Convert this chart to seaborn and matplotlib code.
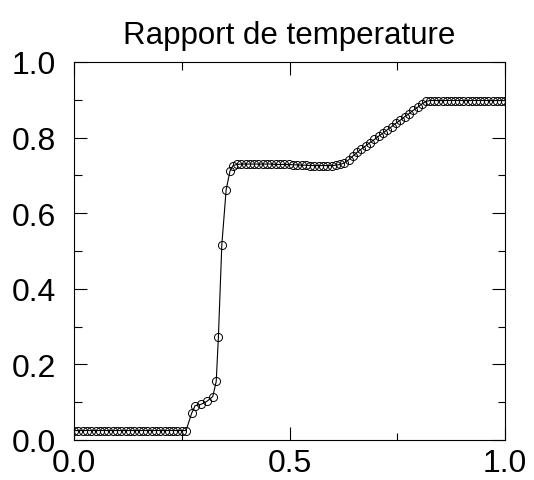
import matplotlib
matplotlib.use("Agg")
import matplotlib.pyplot as plt
import seaborn as sns
import pandas as pd
from matplotlib.ticker import MultipleLocator

title = "Rapport de temperature"
x_ticks = [0.0, 0.5, 1.0]
x_ticklabels = ["0.0", "0.5", "1.0"]
y_ticks = [0.0, 0.2, 0.4, 0.6, 0.8, 1.0]
y_ticklabels = ["0.0", "0.2", "0.4", "0.6", "0.8", "1.0"]

# position along the tube
x_pos = [
    0.00, 0.01, 0.02, 0.03, 0.04, 0.05, 0.06, 0.07, 0.08, 0.09,
    0.10, 0.11, 0.12, 0.13, 0.14, 0.15, 0.16, 0.17, 0.18, 0.19,
    0.20, 0.21, 0.22, 0.23, 0.24, 0.25, 0.26,
    0.273, 0.281, 0.294, 0.308, 0.322, 0.330, 0.335, 0.343, 0.353, 0.362, 0.369,
    0.378, 0.388, 0.398, 0.408, 0.418, 0.428, 0.438, 0.448, 0.458, 0.468,
    0.478, 0.488, 0.498, 0.508, 0.518, 0.528, 0.538, 0.548, 0.558, 0.568,
    0.578, 0.588, 0.598, 0.608, 0.618,
    0.627, 0.637, 0.647, 0.657, 0.667, 0.677, 0.687, 0.697, 0.707, 0.717,
    0.727, 0.737, 0.747, 0.757, 0.767, 0.777, 0.787, 0.797, 0.807, 0.817,
    0.826, 0.836, 0.845, 0.855, 0.865, 0.874, 0.884, 0.894, 0.903, 0.913,
    0.923, 0.932, 0.942, 0.952, 0.961, 0.971, 0.981, 0.990, 1.000,
]

# temperature ratio
t_ratio = [
    0.025, 0.025, 0.025, 0.025, 0.025, 0.025, 0.025, 0.025, 0.025, 0.025,
    0.025, 0.025, 0.025, 0.025, 0.025, 0.025, 0.025, 0.025, 0.025, 0.025,
    0.025, 0.025, 0.025, 0.025, 0.025, 0.025, 0.025,
    0.071, 0.091, 0.094, 0.102, 0.115, 0.155, 0.272, 0.517, 0.662, 0.712, 0.726,
    0.729, 0.730, 0.730, 0.730, 0.730, 0.730, 0.730, 0.730, 0.730, 0.729,
    0.729, 0.729, 0.729, 0.728, 0.728, 0.727, 0.727, 0.726, 0.726, 0.726,
    0.726, 0.726, 0.726, 0.727, 0.729,
    0.733, 0.741, 0.751, 0.761, 0.770, 0.778, 0.787, 0.795, 0.804, 0.812,
    0.821, 0.829, 0.838, 0.846, 0.855, 0.863, 0.872, 0.880, 0.889, 0.896,
    0.898, 0.898, 0.898, 0.898, 0.898, 0.898, 0.898, 0.898, 0.898, 0.898,
    0.898, 0.898, 0.898, 0.898, 0.898, 0.898, 0.898, 0.898, 0.898,
]

df = pd.DataFrame({"x": x_pos, "T": t_ratio})

sns.set_style("ticks")
plt.rcParams["font.family"] = ["Liberation Sans", "DejaVu Sans"]
plt.rcParams["text.color"] = "black"
plt.rcParams["xtick.color"] = "black"
plt.rcParams["ytick.color"] = "black"

fig = plt.figure(figsize=(5.34, 4.81), dpi=100)
ax = fig.add_axes([74 / 534, 40 / 481, 431 / 534, 378 / 481])

sns.lineplot(data=df, x="x", y="T", ax=ax, sort=False, color="black",
             linewidth=0.8, marker="o", markersize=5.8,
             markerfacecolor="none", markeredgecolor="black",
             markeredgewidth=0.7)

ax.set_xlim(0, 1)
ax.set_ylim(0, 1)
ax.set_xticks(x_ticks)
ax.set_xticklabels(x_ticklabels)
ax.set_yticks(y_ticks)
ax.set_yticklabels(y_ticklabels)
ax.xaxis.set_minor_locator(MultipleLocator(0.25))
ax.yaxis.set_minor_locator(MultipleLocator(0.1))
ax.tick_params(which="both", direction="in", top=True, right=True,
               colors="black", labelcolor="black", width=0.8)
ax.tick_params(which="major", length=9.5, labelsize=23)
ax.tick_params(which="minor", length=5.4)
ax.tick_params(axis="y", which="major", pad=13)
ax.tick_params(axis="x", which="major", pad=6)
for s in ax.spines.values():
    s.set_linewidth(0.8)
    s.set_color("black")
ax.set_xlabel("")
ax.set_ylabel("")
ax.set_title(title, fontsize=22.5, pad=14, color="black")

fig.savefig("out.png", dpi=100)
